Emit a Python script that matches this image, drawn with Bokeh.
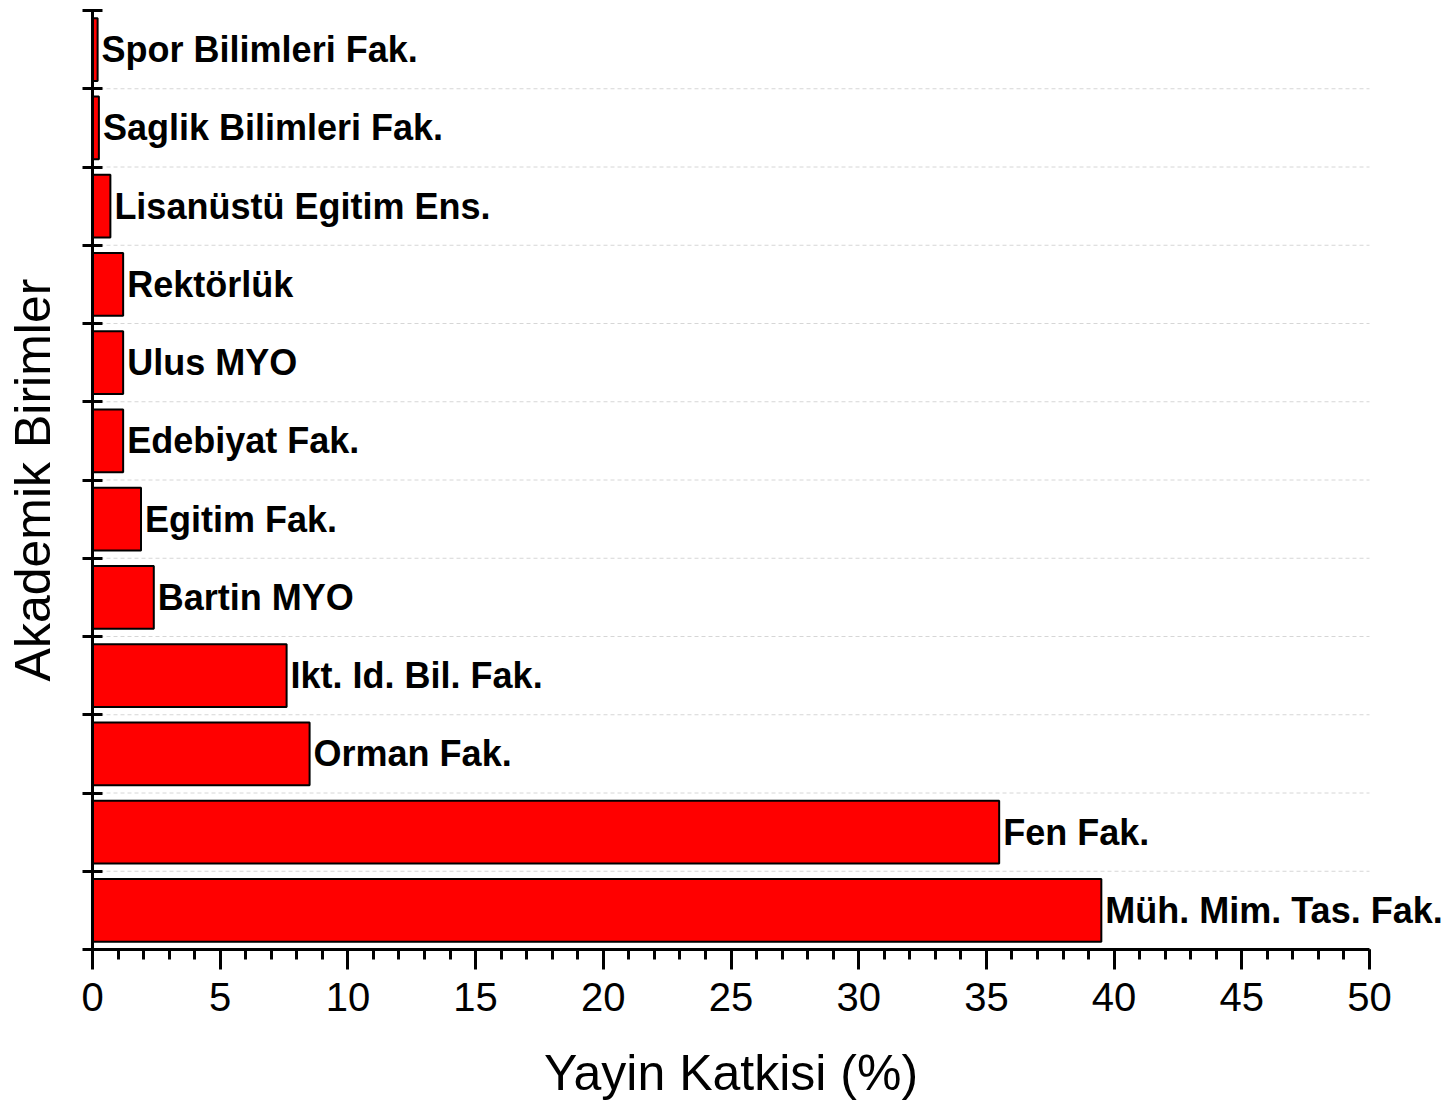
import math
from bokeh.plotting import figure
from bokeh.models import ColumnDataSource, FixedTicker, LabelSet, Label, Range1d
from bokeh.core.properties import value
from bokeh.embed import file_html
from bokeh.resources import INLINE

categories = ["Müh. Mim. Tas. Fak.", "Fen Fak.", "Orman Fak.", "Ikt. Id. Bil. Fak.",
              "Bartin MYO", "Egitim Fak.", "Edebiyat Fak.", "Ulus MYO", "Rektörlük",
              "Lisanüstü Egitim Ens.", "Saglik Bilimleri Fak.", "Spor Bilimleri Fak."]
values = [39.5, 35.5, 8.5, 7.6, 2.4, 1.9, 1.2, 1.2, 1.2, 0.7, 0.25, 0.2]
x_ticks = [0, 5, 10, 15, 20, 25, 30, 35, 40, 45, 50]
x_max = 50
x_title = "Yayin Katkisi (%)"
y_title = "Akademik Birimler"

n = len(categories)
ypos = [i + 0.5 for i in range(n)]
src = ColumnDataSource(dict(y=ypos, v=values, cat=categories))
grid_src = ColumnDataSource(dict(y=list(range(1, n)), x0=[0] * (n - 1), x1=[x_max] * (n - 1)))

FONT = "Liberation Sans"

# Layout (pixels): whole canvas is the frame; axes drawn at fixed locations
W, H = 1443, 1101
PX_X0, PX_X50 = 92, 1369      # pixel columns of x=0 and x=x_max
PX_YTOP, PX_YBOT = 10, 949    # pixel rows of y=n and y=0
sx = (PX_X50 - PX_X0) / x_max
sy = (PX_YBOT - PX_YTOP) / n
x_start, x_end = -PX_X0 / sx, (W - PX_X0) / sx
y_start, y_end = -(H - PX_YBOT) / sy, n + PX_YTOP / sy


def px_to_x(px):
    return (px - PX_X0) / sx


def px_to_y(py):
    return (PX_YBOT - py) / sy


p = figure(width=W, height=H, output_backend="svg", toolbar_location=None,
           x_range=Range1d(x_start, x_end), y_range=Range1d(y_start, y_end),
           min_border=0)
p.outline_line_color = None
p.background_fill_color = "white"
p.border_fill_color = "white"

p.segment(x0="x0", x1="x1", y0="y", y1="y", source=grid_src,
          line_color="#d6d6d6", line_dash="4 3", line_width=1, level="underlay")

p.hbar(y="y", right="v", left=0, height=0.8, source=src,
       fill_color="#ff0000", line_color="black", line_width=2)

labels = LabelSet(x="v", y="y", text="cat", source=src, x_offset=4,
                  text_baseline="middle", text_align="left",
                  text_font=value(FONT), text_font_style="bold", text_font_size="36px",
                  text_color="black")
p.add_layout(labels)

# x axis
xa = p.xaxis[0]
xa.fixed_location = 0
xa.bounds = (0, x_max)
xa.ticker = FixedTicker(ticks=x_ticks, minor_ticks=list(range(0, x_max + 1)))
xa.axis_line_width = 3
xa.axis_line_color = "black"
xa.major_tick_line_width = 3
xa.minor_tick_line_width = 3
xa.major_tick_in = 0
xa.major_tick_out = 20
xa.minor_tick_in = 0
xa.minor_tick_out = 10
xa.major_label_text_font = FONT
xa.major_label_text_font_size = "40px"
xa.major_label_text_color = "black"
xa.major_label_standoff = 13

# y axis
ya = p.yaxis[0]
ya.fixed_location = 0
ya.bounds = (0, n)
ya.ticker = FixedTicker(ticks=list(range(0, n + 1)))
ya.major_label_overrides = {i: "" for i in range(0, n + 1)}
ya.axis_line_width = 3
ya.axis_line_color = "black"
ya.major_tick_line_width = 3
ya.major_tick_in = 10
ya.major_tick_out = 10
ya.minor_tick_line_color = None

p.xgrid.grid_line_color = None
p.ygrid.grid_line_color = None

# axis titles
p.add_layout(Label(x=x_max / 2, y=px_to_y(1072), text=x_title,
                   text_align="center", text_baseline="alphabetic",
                   text_font=FONT, text_font_size="50px", text_color="black"))
p.add_layout(Label(x=px_to_x(32), y=n / 2, text=y_title, angle=math.pi / 2,
                   text_align="center", text_baseline="alphabetic",
                   text_font=FONT, text_font_size="50px", text_color="black"))

open("out.html", "w").write(file_html(p, INLINE))
